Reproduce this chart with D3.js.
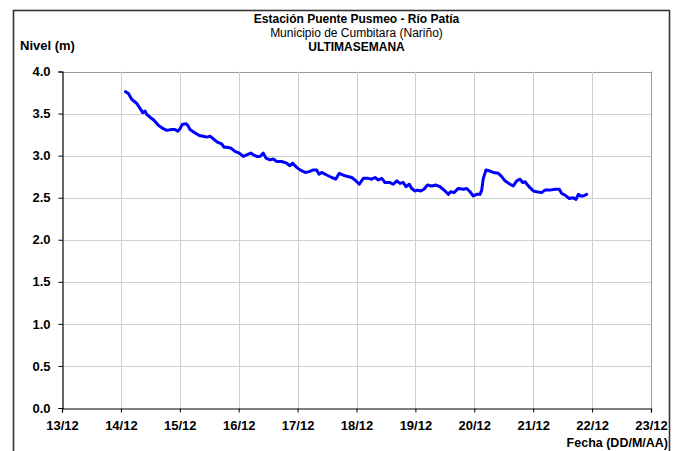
<!DOCTYPE html>
<html>
<head>
<meta charset="utf-8">
<script src="https://cdn.jsdelivr.net/npm/d3@7"></script>
<style>
  html, body { margin: 0; padding: 0; background: #fff; }
  svg { display: block; font-family: "Liberation Sans", Arial, sans-serif; }
</style>
</head>
<body>
<svg id="chart" width="673" height="451"></svg>
<script>
// Hydrometric level, last week (day of December, fractional)
const dia = [
  14.078, 14.126, 14.183, 14.268, 14.336, 14.370, 14.409, 14.438, 14.506, 14.562,
  14.635, 14.720, 14.778, 14.862, 14.919, 14.964, 15.003, 15.042, 15.105, 15.134,
  15.173, 15.258, 15.331, 15.399, 15.457, 15.513, 15.569, 15.637, 15.711, 15.750,
  15.796, 15.864, 15.937, 16.010, 16.078, 16.136, 16.204, 16.248, 16.306, 16.362,
  16.418, 16.463, 16.531, 16.587, 16.645, 16.730, 16.815, 16.871, 16.917, 16.985,
  17.041, 17.126, 17.199, 17.267, 17.324, 17.363, 17.409, 17.494, 17.579, 17.647,
  17.708, 17.805, 17.919, 17.975, 18.048, 18.116, 18.200, 18.258, 18.314, 18.370,
  18.428, 18.484, 18.569, 18.625, 18.683, 18.739, 18.795, 18.840, 18.896, 18.937,
  18.993, 19.032, 19.090, 19.146, 19.202, 19.277, 19.350, 19.418, 19.503, 19.559,
  19.599, 19.655, 19.728, 19.813, 19.871, 19.927, 19.983, 20.041, 20.097, 20.126,
  20.153, 20.199, 20.255, 20.323, 20.408, 20.465, 20.521, 20.606, 20.662, 20.720,
  20.776, 20.822, 20.861, 20.917, 21.002, 21.060, 21.144, 21.200, 21.285, 21.370,
  21.443, 21.484, 21.540, 21.613, 21.671, 21.727, 21.766, 21.806, 21.851, 21.908
];
// Level in metres
const nivel = [
  3.76, 3.74, 3.67, 3.62, 3.55, 3.51, 3.53, 3.49, 3.45, 3.42,
  3.36, 3.32, 3.30, 3.31, 3.31, 3.29, 3.32, 3.37, 3.38, 3.36,
  3.31, 3.27, 3.24, 3.23, 3.22, 3.23, 3.20, 3.16, 3.14, 3.10,
  3.10, 3.09, 3.05, 3.03, 2.99, 3.01, 3.03, 3.01, 2.99, 2.99,
  3.03, 2.97, 2.95, 2.96, 2.93, 2.93, 2.91, 2.88, 2.91, 2.86,
  2.83, 2.80, 2.81, 2.83, 2.83, 2.78, 2.80, 2.77, 2.74, 2.72,
  2.79, 2.76, 2.74, 2.71, 2.66, 2.73, 2.73, 2.72, 2.74, 2.71,
  2.73, 2.68, 2.68, 2.66, 2.70, 2.67, 2.68, 2.63, 2.66, 2.61,
  2.58, 2.59, 2.58, 2.60, 2.65, 2.64, 2.65, 2.63, 2.58, 2.54,
  2.57, 2.56, 2.61, 2.60, 2.61, 2.57, 2.52, 2.54, 2.54, 2.59,
  2.73, 2.83, 2.82, 2.80, 2.79, 2.75, 2.70, 2.66, 2.64, 2.70,
  2.72, 2.68, 2.69, 2.64, 2.58, 2.57, 2.56, 2.59, 2.59, 2.60,
  2.60, 2.55, 2.53, 2.49, 2.50, 2.48, 2.54, 2.52, 2.52, 2.54
];
const nivelTicks = [0, 0.5, 1, 1.5, 2, 2.5, 3, 3.5, 4];
const diaInicio = 13, diaFin = 23;

const titulo = "Estación Puente Pusmeo - Río Patía";
const subtitulo = "Municipio de Cumbitara (Nariño)";
const periodo = "ULTIMASEMANA";
const ejeY = "Nivel (m)";
const ejeX = "Fecha (DD/M/AA)";

// December days -> Date objects
const base = new Date(2011, 11, 1).getTime();
const toDate = d => new Date(base + (d - 1) * 864e5);
const serie = dia.map((d, i) => ({ t: toDate(d), v: nivel[i] }));

const svg = d3.select("#chart");
const m = { left: 62, right: 651, top: 71.5, bottom: 408 };

const x = d3.scaleTime().domain([toDate(diaInicio), toDate(diaFin)]).range([m.left, m.right]);
const y = d3.scaleLinear().domain([0, 4]).range([m.bottom, m.top]);

// outer frame
svg.append("rect")
  .attr("x", 13.5).attr("y", 10.5).attr("width", 656).attr("height", 460)
  .attr("fill", "none").attr("stroke", "#333").attr("stroke-width", 1.6);

// grid
const tiempoTicks = d3.timeDay.range(toDate(diaInicio), d3.timeDay.offset(toDate(diaFin), 1));
svg.append("g").selectAll("line").data(nivelTicks.slice(1)).join("line")
  .attr("x1", m.left).attr("x2", m.right)
  .attr("y1", d => Math.round(y(d)) + 0.5).attr("y2", d => Math.round(y(d)) + 0.5)
  .attr("stroke", d => d === 4 ? "#9a9a9a" : "#cfcfcf").attr("stroke-width", 1);
svg.append("g").selectAll("line").data(tiempoTicks.slice(1)).join("line")
  .attr("y1", m.top).attr("y2", m.bottom)
  .attr("x1", d => Math.round(x(d)) + 0.5).attr("x2", d => Math.round(x(d)) + 0.5)
  .attr("stroke", (d, i, a) => i === a.length - 1 ? "#9a9a9a" : "#cfcfcf").attr("stroke-width", 1);

// axes
const yAxis = svg.append("g").attr("transform", `translate(${m.left + 0.5},0)`)
  .call(d3.axisLeft(y).tickValues(nivelTicks).tickFormat(d3.format(".1f")).tickSize(4).tickPadding(8));
const xAxis = svg.append("g").attr("transform", `translate(0,${m.bottom + 0.5})`)
  .call(d3.axisBottom(x).tickValues(tiempoTicks).tickFormat(d3.timeFormat("%d/%m")).tickSize(4).tickPadding(8));
[yAxis, xAxis].forEach(g => {
  g.select(".domain").attr("stroke", "#000").attr("stroke-width", 1.2);
  g.selectAll(".tick line").attr("stroke", "#000");
  g.selectAll("text").attr("font-family", "Liberation Sans, Arial, sans-serif")
    .attr("font-size", 13).attr("font-weight", "bold").attr("fill", "#000");
});

// series
svg.append("path").datum(serie)
  .attr("fill", "none").attr("stroke", "#0000ff").attr("stroke-width", 3)
  .attr("stroke-linejoin", "round").attr("stroke-linecap", "round")
  .attr("d", d3.line().x(d => x(d.t)).y(d => y(d.v)));

// titles
const cx = (m.left + m.right) / 2;
svg.append("text").attr("x", cx).attr("y", 22.5).attr("text-anchor", "middle")
  .attr("font-size", 12).attr("font-weight", "bold").text(titulo);
svg.append("text").attr("x", cx).attr("y", 36.5).attr("text-anchor", "middle")
  .attr("font-size", 12).text(subtitulo);
svg.append("text").attr("x", cx).attr("y", 50.5).attr("text-anchor", "middle")
  .attr("font-size", 12).attr("font-weight", "bold").text(periodo);
svg.append("text").attr("x", 20).attr("y", 50)
  .attr("font-size", 13).attr("font-weight", "bold").text(ejeY);
svg.append("text").attr("x", 668).attr("y", 447).attr("text-anchor", "end")
  .attr("font-size", 12.5).attr("font-weight", "bold").text(ejeX);
</script>
</body>
</html>
